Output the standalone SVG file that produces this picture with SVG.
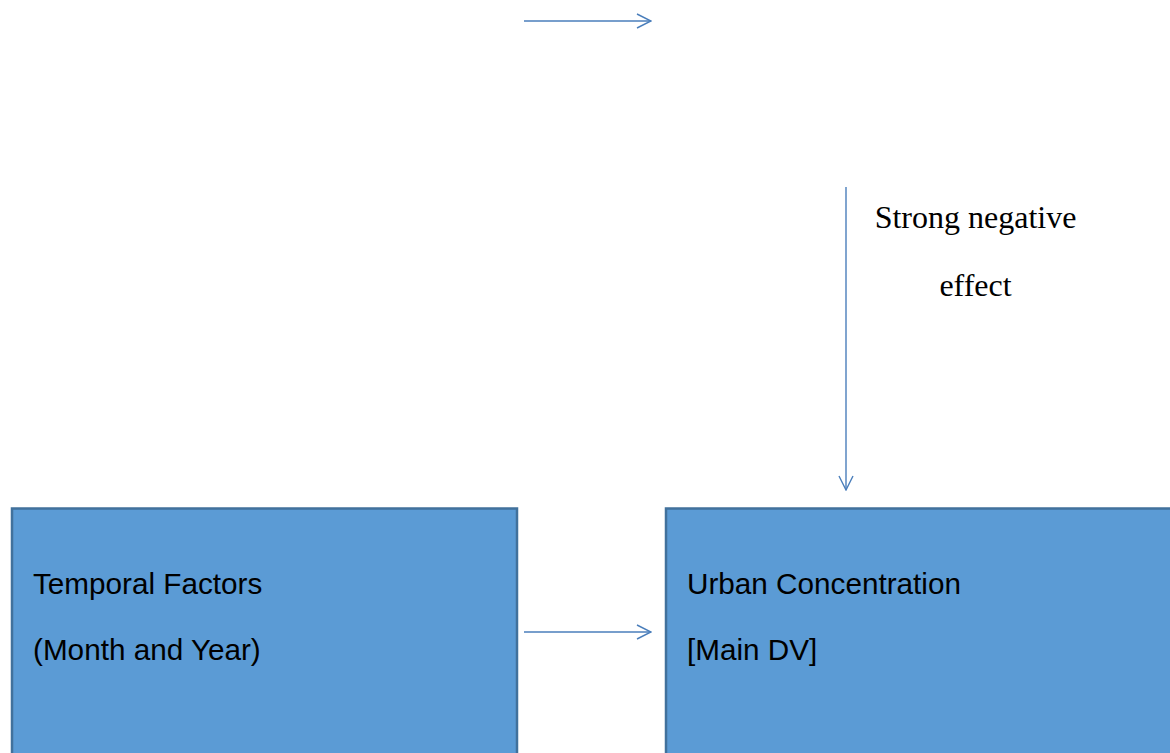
<svg xmlns="http://www.w3.org/2000/svg" width="1170" height="753" viewBox="0 0 1170 753">
<defs>
<style>
.box{fill:#5B9BD5;stroke:#41719C;stroke-width:2.5}
.t{font-family:"Liberation Sans",Arial,sans-serif;font-size:29.7px;fill:#000}
.lbl{font-family:"Liberation Serif","Times New Roman",serif;font-size:32px;fill:#000}
.c{stroke:#4A7EBB;stroke-width:1.4;fill:none}
</style>
<marker id="ah" viewBox="0 0 16 16" markerWidth="16" markerHeight="16" refX="15" refY="8" orient="auto" markerUnits="userSpaceOnUse">
<path d="M1,1 L15,8 L1,15" fill="none" stroke="#4A7EBB" stroke-width="1.4"/>
</marker>
</defs>
<rect width="1170" height="753" fill="#fff"/>
<g id="temporal">
<rect class="box" x="12" y="508.5" width="505" height="260"/>
<text class="t" x="33" y="594">Temporal Factors</text>
<text class="t" x="33" y="660">(Month and Year)</text>
</g>
<g id="urban">
<rect class="box" x="666" y="508.5" width="520" height="260"/>
<text class="t" x="687" y="594">Urban Concentration</text>
<text class="t" x="687" y="660">[Main DV]</text>
</g>
<g id="label">
<text class="lbl" x="975.5" y="228" text-anchor="middle">Strong negative</text>
<text class="lbl" x="975.5" y="296" text-anchor="middle">effect</text>
</g>
<g id="connectors">
<line class="c" x1="524" y1="21" x2="651" y2="21" marker-end="url(#ah)"/>
<line class="c" x1="524" y1="632" x2="651" y2="632" marker-end="url(#ah)"/>
<line class="c" x1="846" y1="187" x2="846" y2="490" marker-end="url(#ah)"/>
</g>
</svg>
